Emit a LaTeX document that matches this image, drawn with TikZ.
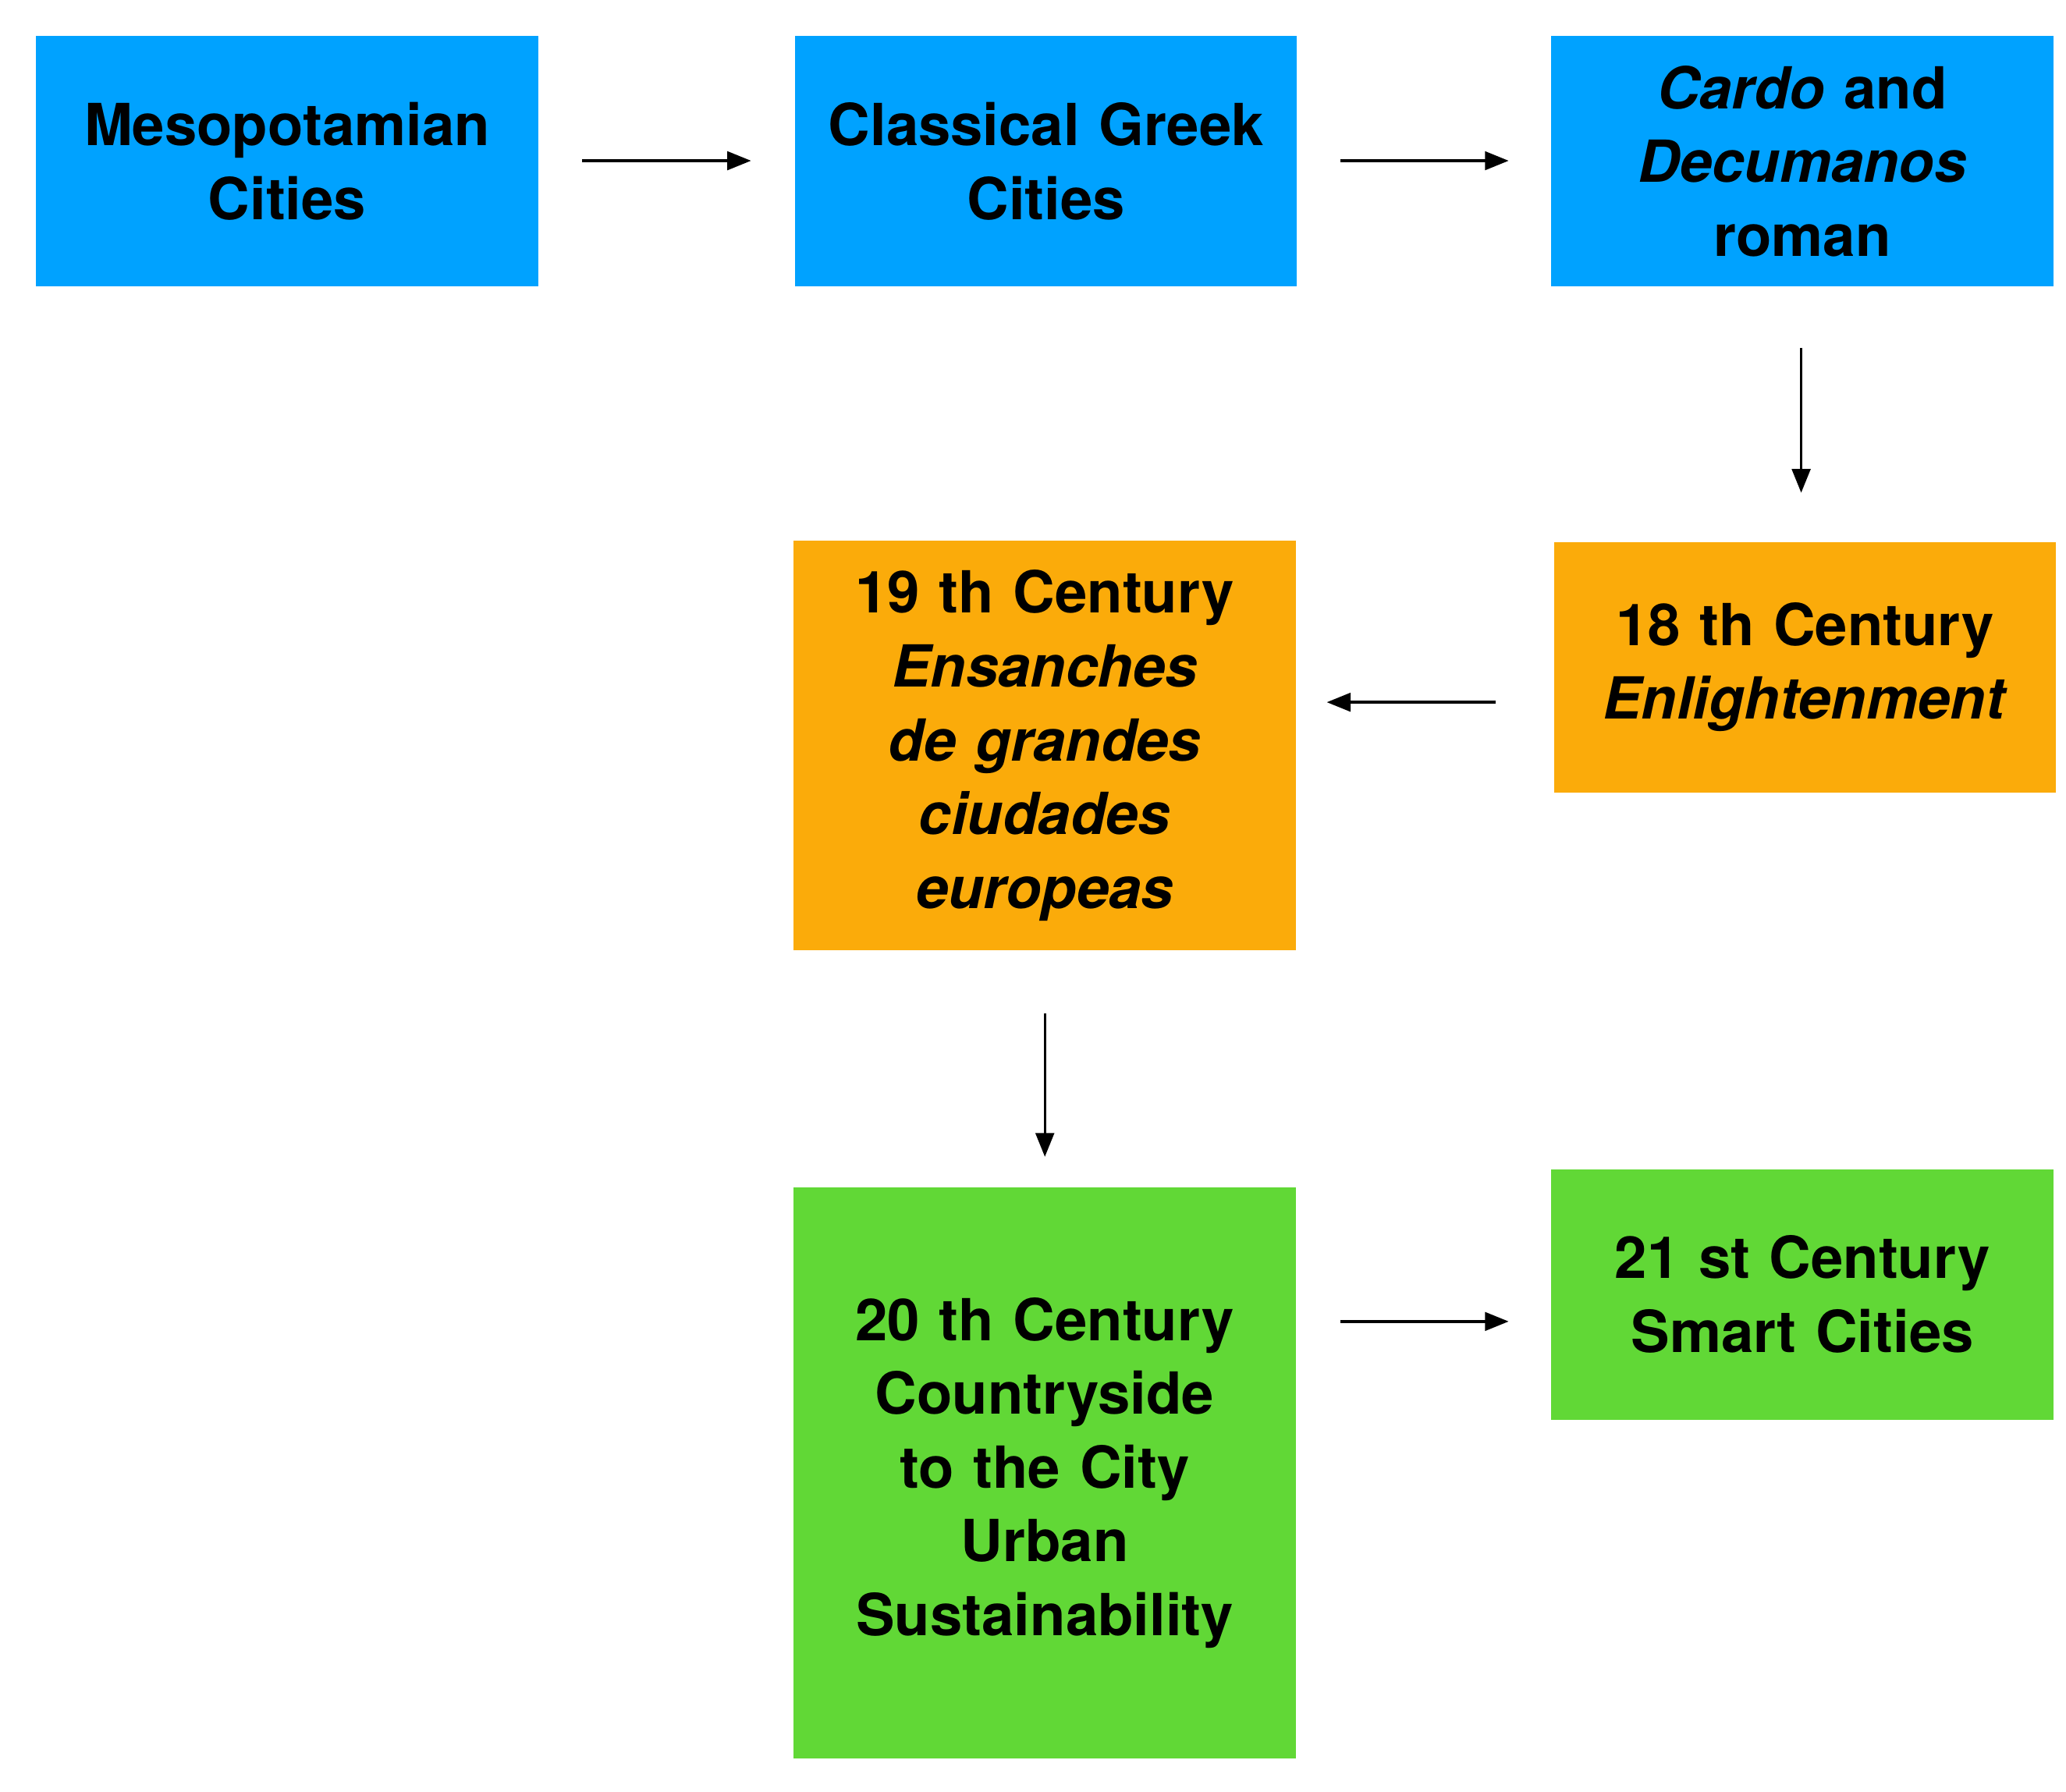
\documentclass[tikz,border=0pt]{standalone}
\usepackage{fontspec}
\setmainfont{TeX Gyre Heros}
\usetikzlibrary{arrows.meta}
\definecolor{cblue}{HTML}{00A2FF}
\definecolor{corange}{HTML}{FBAB0A}
\definecolor{cgreen}{HTML}{61D836}
\begin{document}
\begin{tikzpicture}[x=0.5pt,y=-0.5pt,
  box/.style={anchor=north west,inner sep=0pt,minimum width=190.5pt,text width=180pt,align=center,font=\fontsize{22}{28}\selectfont\bfseries},
  arr/.style={-{Triangle[length=9pt,width=7pt]},line width=1pt}]
\useasboundingbox (0,0) rectangle (1568,1360);
\node[box,fill=cblue,minimum height=95pt] (m) at (27,27) {Mesopotamian\\Cities};
\node[box,fill=cblue,minimum height=95pt] (g) at (603,27) {Classical Greek\\Cities};
\node[box,fill=cblue,minimum height=95pt] (c) at (1177,27) {\textit{Cardo} and\\\textit{Decumanos}\\roman};
\node[box,fill=corange,minimum height=95pt] (e) at (1179,411) {18 th Century\\\textit{Enlightenment}};
\node[box,fill=corange,minimum height=155.5pt] (n) at (602,410) {19 th Century\\\textit{Ensanches de grandes ciudades europeas}};
\node[box,fill=cgreen,minimum height=216.5pt] (t) at (602,901) {20 th Century\\Countryside to the City\\Urban\\Sustainability};
\node[box,fill=cgreen,minimum height=95pt] (s) at (1177,887) {21 st Century\\Smart Cities};
\coordinate (a1) at (442,122); \coordinate (b1) at (570,122);
\coordinate (a2) at (1017,122); \coordinate (b2) at (1145,122);
\coordinate (a3) at (1367,264); \coordinate (b3) at (1367,374);
\coordinate (a4) at (1135,533); \coordinate (b4) at (1007,533);
\coordinate (a5) at (793,769); \coordinate (b5) at (793,878);
\coordinate (a6) at (1017,1003); \coordinate (b6) at (1145,1003);
\foreach \i in {1,...,6} \draw[arr] (a\i) -- (b\i);
\end{tikzpicture}
\end{document}
